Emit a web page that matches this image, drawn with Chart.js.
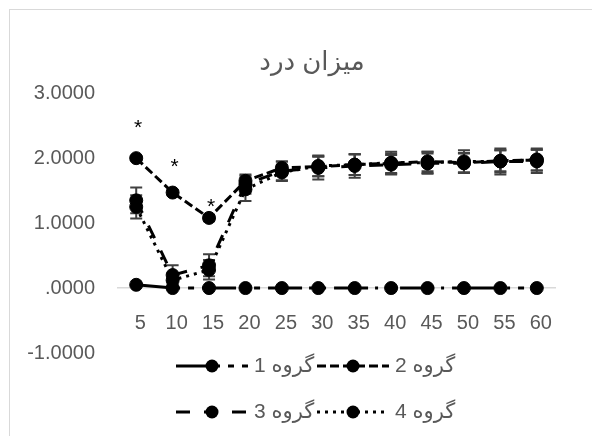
<!DOCTYPE html>
<html>
<head>
<meta charset="utf-8">
<script src="https://cdn.jsdelivr.net/npm/chart.js@4/dist/chart.umd.min.js"></script>
<style>
html,body{margin:0;padding:0;background:#fff;overflow:hidden;}
#wrap{position:relative;width:592px;height:436px;}
</style>
</head>
<body>
<div id="wrap"><canvas id="c" width="592" height="436"></canvas></div>
<script>
// ---- data ----
const categories = ['5','10','15','20','25','30','35','40','45','50','55','60'];
const seriesNames = ['گروه 1','گروه 2','گروه 3','گروه 4'];
const group1 = [0.05, 0, 0, 0, 0, 0, 0, 0, 0, 0, 0, 0];
const group2 = [2.00, 1.47, 1.08, 1.65, 1.85, 1.87, 1.90, 1.92, 1.95, 1.93, 1.96, 1.97];
const group3 = [1.35, 0.20, 0.35, 1.60, 1.80, 1.85, 1.88, 1.90, 1.92, 1.92, 1.95, 1.95];
const group4 = [1.25, 0.12, 0.28, 1.52, 1.78, 1.88, 1.90, 1.93, 1.93, 1.95, 1.95, 1.98];
const err1 = [0, 0, 0, 0, 0, 0, 0, 0, 0, 0, 0, 0];
const err2 = [0.03, 0.04, 0.05, 0.08, 0.10, 0.15, 0.16, 0.15, 0.15, 0.15, 0.16, 0.16];
const err3 = [0.20, 0.15, 0.17, 0.15, 0.15, 0.18, 0.18, 0.15, 0.15, 0.15, 0.20, 0.18];
const err4 = [0.18, 0.10, 0.15, 0.18, 0.12, 0.16, 0.16, 0.17, 0.17, 0.17, 0.17, 0.17];
const starValues = [2.52, 1.92, 1.31]; // '*' marks above the first three time points
const yTicks = [-1, 0, 1, 2, 3];

const FONT = "'Liberation Sans', Arial, 'DejaVu Sans', sans-serif";
const GREY = '#595959';
const dashes = [[34, 7, 3, 8, 6, 8], [9, 4], [14, 14], [3, 5]];
const values = [group1, group2, group3, group4];
const errors = [err1, err2, err3, err4];

const frame = {
  id: 'frame',
  beforeDraw(chart) {
    const ctx = chart.ctx;
    ctx.save();
    ctx.fillStyle = '#fff';
    ctx.fillRect(0, 0, chart.width, chart.height);
    ctx.strokeStyle = '#d9d9d9';
    ctx.lineWidth = 1;
    ctx.strokeRect(9.5, 9.5, 800, 800);
    ctx.restore();
  }
};

const errorBars = {
  id: 'errorBars',
  beforeDatasetsDraw(chart) {
    const ctx = chart.ctx, x = chart.scales.x, y = chart.scales.y;
    ctx.save();
    ctx.strokeStyle = '#404040';
    ctx.lineWidth = 2;
    errors.forEach((errs, s) => {
      errs.forEach((e, i) => {
        if (!e) return;
        const px = x.getPixelForValue(i);
        const top = y.getPixelForValue(values[s][i] + e);
        const bot = y.getPixelForValue(values[s][i] - e);
        ctx.beginPath();
        ctx.moveTo(px, top); ctx.lineTo(px, bot);
        ctx.moveTo(px - 6, top); ctx.lineTo(px + 6, top);
        ctx.moveTo(px - 6, bot); ctx.lineTo(px + 6, bot);
        ctx.stroke();
      });
    });
    ctx.restore();
  }
};

const stars = {
  id: 'stars',
  afterDatasetsDraw(chart) {
    const ctx = chart.ctx, x = chart.scales.x, y = chart.scales.y;
    ctx.save();
    ctx.fillStyle = '#000';
    ctx.font = '21px ' + FONT;
    ctx.textAlign = 'center';
    ctx.textBaseline = 'middle';
    starValues.forEach((v, i) => {
      ctx.fillText('*', x.getPixelForValue(i) + 2, y.getPixelForValue(v) + 4);
    });
    ctx.restore();
  }
};

const legendBox = {
  id: 'legendBox',
  afterDraw(chart) {
    const ctx = chart.ctx;
    const colX = [176, 317];
    const rowY = [366, 412];
    ctx.save();
    chart.data.datasets.forEach((ds, i) => {
      const x0 = colX[i % 2], yy = rowY[Math.floor(i / 2)];
      ctx.strokeStyle = '#000';
      ctx.lineWidth = 3;
      ctx.setLineDash(ds.borderDash || []);
      ctx.beginPath();
      ctx.moveTo(x0, yy); ctx.lineTo(x0 + 72, yy);
      ctx.stroke();
      ctx.setLineDash([]);
      ctx.fillStyle = '#000';
      ctx.beginPath();
      ctx.arc(x0 + 36, yy, 6.5, 0, Math.PI * 2);
      ctx.fill();
      ctx.fillStyle = GREY;
      ctx.font = '21px ' + FONT;
      ctx.textAlign = 'left';
      ctx.textBaseline = 'middle';
      ctx.fillText(ds.label, x0 + 78, yy);
    });
    ctx.restore();
  }
};

const datasets = values.map((v, i) => ({
  label: seriesNames[i],
  data: v,
  borderColor: '#000',
  backgroundColor: '#000',
  borderWidth: 3,
  borderDash: dashes[i],
  pointRadius: 6.5,
  pointBorderWidth: 1,
  pointBackgroundColor: '#000',
  pointBorderColor: '#000',
  tension: 0,
  clip: false
}));

new Chart(document.getElementById('c'), {
  type: 'line',
  data: { labels: categories, datasets },
  plugins: [frame, errorBars, stars, legendBox],
  options: {
    responsive: false,
    animation: false,
    devicePixelRatio: 1,
    layout: { padding: { left: 24, right: -8, top: 0, bottom: 83 } },
    plugins: {
      legend: { display: false },
      tooltip: { enabled: false },
      title: {
        display: true,
        text: 'میزان درد',
        color: GREY,
        font: { family: FONT, size: 26, weight: 'normal' },
        padding: { top: 47, bottom: 15 }
      }
    },
    scales: {
      x: {
        type: 'category',
        offset: true,
        position: { y: 0 },
        grid: { display: false, drawTicks: false },
        border: { display: true, color: '#d9d9d9', width: 1.5 },
        ticks: { color: GREY, font: { family: FONT, size: 20 }, padding: 23, labelOffset: 4, maxRotation: 0, autoSkip: false },
        afterFit(scale) { scale.height = 0; }
      },
      y: {
        position: 'left',
        min: -1, max: 3,
        grid: { display: false, drawTicks: false },
        border: { display: false },
        afterBuildTicks(scale) { scale.ticks = yTicks.map(v => ({ value: v })); },
        ticks: {
          color: GREY,
          font: { family: FONT, size: 20 },
          padding: 23,
          callback: (v) => v === 0 ? '.0000' : Number(v).toFixed(4)
        },
        afterFit(scale) { scale.width = 94; }
      },
      yRight: {
        axis: 'y',
        position: 'right',
        display: true,
        grid: { display: false, drawTicks: false },
        border: { display: false },
        ticks: { display: false },
        afterFit(scale) { scale.width = 45; }
      }
    }
  }
});
</script>
</body>
</html>
